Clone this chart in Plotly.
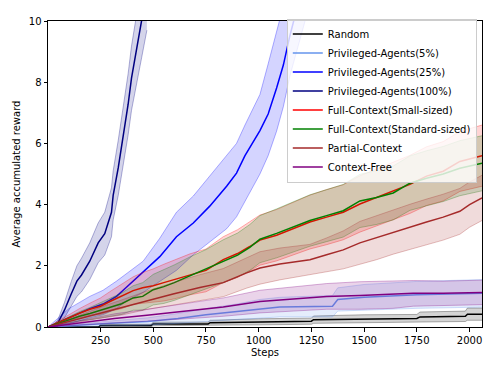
import plotly.graph_objects as go

random_steps = [1, 240, 250, 490, 500, 760, 770, 1000, 1250, 1260, 1500, 1750, 1765, 1980, 1990, 2059]
random_mean = [0, 0, 0.05, 0.05, 0.1, 0.1, 0.14, 0.17, 0.19, 0.24, 0.27, 0.28, 0.33, 0.35, 0.42, 0.42]
random_lo = [0, 0, 0.01, 0.01, 0.04, 0.04, 0.06, 0.07, 0.09, 0.12, 0.14, 0.15, 0.17, 0.18, 0.22, 0.22]
random_hi = [0, 0, 0.09, 0.09, 0.16, 0.16, 0.22, 0.27, 0.29, 0.36, 0.4, 0.41, 0.49, 0.52, 0.62, 0.62]

p5_steps = [1, 150, 300, 474, 617, 750, 895, 1006, 1100, 1350, 1375, 1500, 1750, 2059]
p5_mean = [0, 0.07, 0.12, 0.18, 0.28, 0.4, 0.5, 0.6, 0.65, 0.68, 0.9, 0.97, 1.05, 1.1]
p5_lo = [0, 0.03, 0.04, 0.06, 0.12, 0.2, 0.25, 0.3, 0.33, 0.33, 0.52, 0.55, 0.61, 0.65]
p5_hi = [0, 0.11, 0.2, 0.3, 0.44, 0.6, 0.75, 0.9, 0.97, 1.03, 1.28, 1.39, 1.49, 1.55]

p25_steps = [1, 100, 199, 262, 326, 373, 452, 531, 610, 690, 768, 848, 895, 935, 1006,
             1045, 1085, 1117, 1148, 1164, 1200, 1240]
p25_mean = [0, 0.3, 0.6, 0.75, 1.0, 1.3, 1.8, 2.3, 2.95, 3.4, 3.95, 4.6, 5.03, 5.6, 6.42,
            6.96, 7.81, 8.56, 9.52, 10.0, 10.9, 11.5]
p25_lo = [0, 0.1, 0.3, 0.4, 0.6, 0.85, 1.13, 1.5, 1.85, 2.36, 2.79, 3.21, 3.6, 4.1, 5.0,
          5.6, 6.4, 7.2, 8.2, 8.6, 9.5, 10.5]
p25_hi = [0, 0.6, 1.0, 1.2, 1.5, 1.75, 2.15, 2.9, 3.75, 4.28, 4.93, 5.6, 6.0, 6.6, 7.6,
          8.6, 9.7, 10.5, 11.1, 11.4, 12.0, 12.5]

p100_steps = [1, 30, 47, 79, 111, 138, 160, 199, 239, 270, 302, 310, 334, 357, 381, 397, 421, 445, 470]
p100_mean = [0, 0.05, 0.12, 0.55, 1.08, 1.5, 1.7, 2.15, 2.75, 3.05, 3.75, 4.3, 5.2, 6.2, 7.28, 8.13, 9.1, 10.0, 11.0]
p100_lo = [0, 0, 0.02, 0.3, 0.68, 1.0, 1.15, 1.55, 2.1, 2.35, 2.95, 3.5, 4.3, 5.25, 6.28, 7.08, 8.0, 8.8, 9.7]
p100_hi = [0, 0.1, 0.22, 0.8, 1.48, 2.0, 2.25, 2.75, 3.4, 3.75, 4.55, 5.1, 6.1, 7.15, 8.28, 9.18, 10.2, 11.2, 12.3]

full_steps = [1, 50, 100, 150, 200, 250, 300, 350, 405, 450, 500, 550, 600, 674, 750, 832,
              900, 958, 1006, 1085, 1164, 1243, 1322, 1401, 1480, 1559, 1638, 1717, 1796,
              1875, 1954, 2059]
small_mean = [0, 0.15, 0.3, 0.45, 0.58, 0.68, 0.85, 1.0, 1.19, 1.28, 1.35, 1.45, 1.55, 1.72,
              1.85, 2.2, 2.4, 2.63, 2.84, 3.0, 3.21, 3.43, 3.59, 3.75, 4.02, 4.23, 4.44,
              4.66, 4.93, 5.09, 5.41, 5.6]
small_lo = [0, 0.1, 0.2, 0.3, 0.38, 0.41, 0.52, 0.6, 0.74, 0.78, 0.8, 0.85, 0.92, 1.05,
            1.15, 1.45, 1.62, 1.83, 2.02, 2.16, 2.35, 2.55, 2.69, 2.85, 3.1, 3.3, 3.5,
            3.71, 3.97, 4.12, 4.43, 4.6]
small_hi = [0, 0.2, 0.4, 0.6, 0.78, 0.95, 1.18, 1.4, 1.64, 1.78, 1.9, 2.05, 2.18, 2.39,
            2.55, 2.95, 3.18, 3.43, 3.66, 3.84, 4.07, 4.31, 4.49, 4.65, 4.94, 5.16, 5.38,
            5.61, 5.89, 6.06, 6.39, 6.6]

standard_mean = [0, 0.12, 0.25, 0.35, 0.44, 0.55, 0.65, 0.76, 0.95, 1.0, 1.22, 1.32, 1.45,
                 1.67, 1.88, 2.15, 2.35, 2.6, 2.87, 3.06, 3.27, 3.48, 3.64, 3.8, 4.12, 4.23,
                 4.38, 4.7, 4.86, 5.0, 5.19, 5.35]
standard_lo = [0, 0.07, 0.15, 0.2, 0.24, 0.3, 0.35, 0.41, 0.55, 0.55, 0.72, 0.77, 0.87,
               1.05, 1.23, 1.45, 1.63, 1.85, 2.1, 2.26, 2.45, 2.64, 2.79, 2.94, 3.25, 3.35,
               3.5, 3.81, 3.96, 4.1, 4.29, 4.45]
standard_hi = [0, 0.17, 0.35, 0.5, 0.64, 0.8, 0.95, 1.11, 1.35, 1.45, 1.72, 1.87, 2.03,
               2.29, 2.53, 2.85, 3.07, 3.35, 3.64, 3.86, 4.09, 4.32, 4.49, 4.66, 4.99, 5.11,
               5.26, 5.59, 5.76, 5.9, 6.09, 6.25]

partial_steps = [1, 100, 199, 280, 357, 468, 594, 721, 832, 943, 1006, 1100, 1243, 1322,
                 1401, 1480, 1559, 1638, 1717, 1796, 1875, 1954, 2000, 2059]
partial_mean = [0, 0.18, 0.38, 0.52, 0.65, 0.87, 1.08, 1.29, 1.45, 1.77, 1.93, 2.06, 2.2,
                2.36, 2.52, 2.75, 2.92, 3.11, 3.27, 3.43, 3.59, 3.78, 4.0, 4.22]
partial_lo = [0, 0.1, 0.23, 0.32, 0.4, 0.57, 0.71, 0.87, 0.99, 1.27, 1.4, 1.54, 1.7, 1.81,
              1.9, 2.05, 2.2, 2.38, 2.53, 2.68, 2.84, 3.03, 3.26, 3.48]
partial_hi = [0, 0.26, 0.53, 0.72, 0.9, 1.17, 1.45, 1.71, 1.91, 2.27, 2.46, 2.58, 2.7,
              2.91, 3.14, 3.45, 3.64, 3.84, 4.01, 4.18, 4.34, 4.53, 4.74, 4.96]

free_steps = [1, 158, 316, 470, 617, 832, 1006, 1164, 1322, 1480, 1638, 1733, 1875, 2059]
free_mean = [0, 0.14, 0.28, 0.38, 0.49, 0.65, 0.83, 0.92, 1.0, 1.03, 1.06, 1.1, 1.1, 1.13]
free_lo = [0, 0.06, 0.13, 0.18, 0.25, 0.35, 0.46, 0.52, 0.58, 0.58, 0.61, 0.68, 0.7, 0.73]
free_hi = [0, 0.22, 0.43, 0.58, 0.73, 0.95, 1.2, 1.32, 1.42, 1.48, 1.51, 1.52, 1.5, 1.53]

series = [
    ("Random", random_steps, random_mean, random_lo, random_hi, (0, 0, 0)),
    ("Privileged-Agents(5%)", p5_steps, p5_mean, p5_lo, p5_hi, (100, 149, 237)),
    ("Privileged-Agents(25%)", p25_steps, p25_mean, p25_lo, p25_hi, (0, 0, 255)),
    ("Privileged-Agents(100%)", p100_steps, p100_mean, p100_lo, p100_hi, (0, 0, 128)),
    ("Full-Context(Small-sized)", full_steps, small_mean, small_lo, small_hi, (255, 0, 0)),
    ("Full-Context(Standard-sized)", full_steps, standard_mean, standard_lo, standard_hi, (0, 128, 0)),
    ("Partial-Context", partial_steps, partial_mean, partial_lo, partial_hi, (165, 42, 42)),
    ("Context-Free", free_steps, free_mean, free_lo, free_hi, (128, 0, 128)),
]


def rgba(c, a):
    return "rgba(%d,%d,%d,%s)" % (c[0], c[1], c[2], a)


fig = go.Figure()

for name, steps, mean, lo, hi, col in series:
    # lower edge, then upper edge filled down to it, then the mean line on top
    fig.add_trace(go.Scatter(
        x=steps, y=lo, mode="lines",
        line=dict(color=rgba(col, 0.3), width=1),
        showlegend=False, hoverinfo="skip"
    ))
    fig.add_trace(go.Scatter(
        x=steps, y=hi, mode="lines", fill="tonexty",
        fillcolor=rgba(col, 0.17),
        line=dict(color=rgba(col, 0.3), width=1),
        showlegend=False, hoverinfo="skip"
    ))
    fig.add_trace(go.Scatter(
        x=steps, y=mean, mode="lines",
        line=dict(color=rgba(col, 1), width=1.5),
        name=name
    ))

axis_style = dict(
    showline=True, mirror=True, linecolor="black", linewidth=1,
    ticks="outside", ticklen=3.5, tickcolor="black",
    showgrid=False, zeroline=False,
    tickfont=dict(size=10, color="black"),
)

# the page body keeps its default 8px margin, so the figure is a bit smaller
fig.update_layout(
    width=490, height=365,
    margin=dict(l=40, r=16, t=7, b=46),
    plot_bgcolor="white", paper_bgcolor="white",
    font=dict(family="DejaVu Sans", size=10, color="black"),
    legend=dict(
        x=0.988, y=1.008, xanchor="right", yanchor="top",
        bgcolor="rgba(255,255,255,0.8)", bordercolor="#cccccc", borderwidth=1,
        font=dict(size=10), tracegroupgap=0, traceorder="normal",
    ),
)
fig.update_xaxes(range=[1, 2059], tickvals=[250, 500, 750, 1000, 1250, 1500, 1750, 2000],
                 title=dict(text="Steps", font=dict(size=10), standoff=4), **axis_style)
fig.update_yaxes(range=[0, 10], tickvals=[0, 2, 4, 6, 8, 10],
                 title=dict(text="Average accumulated reward", font=dict(size=10), standoff=6),
                 **axis_style)

fig.write_html("out.html")
